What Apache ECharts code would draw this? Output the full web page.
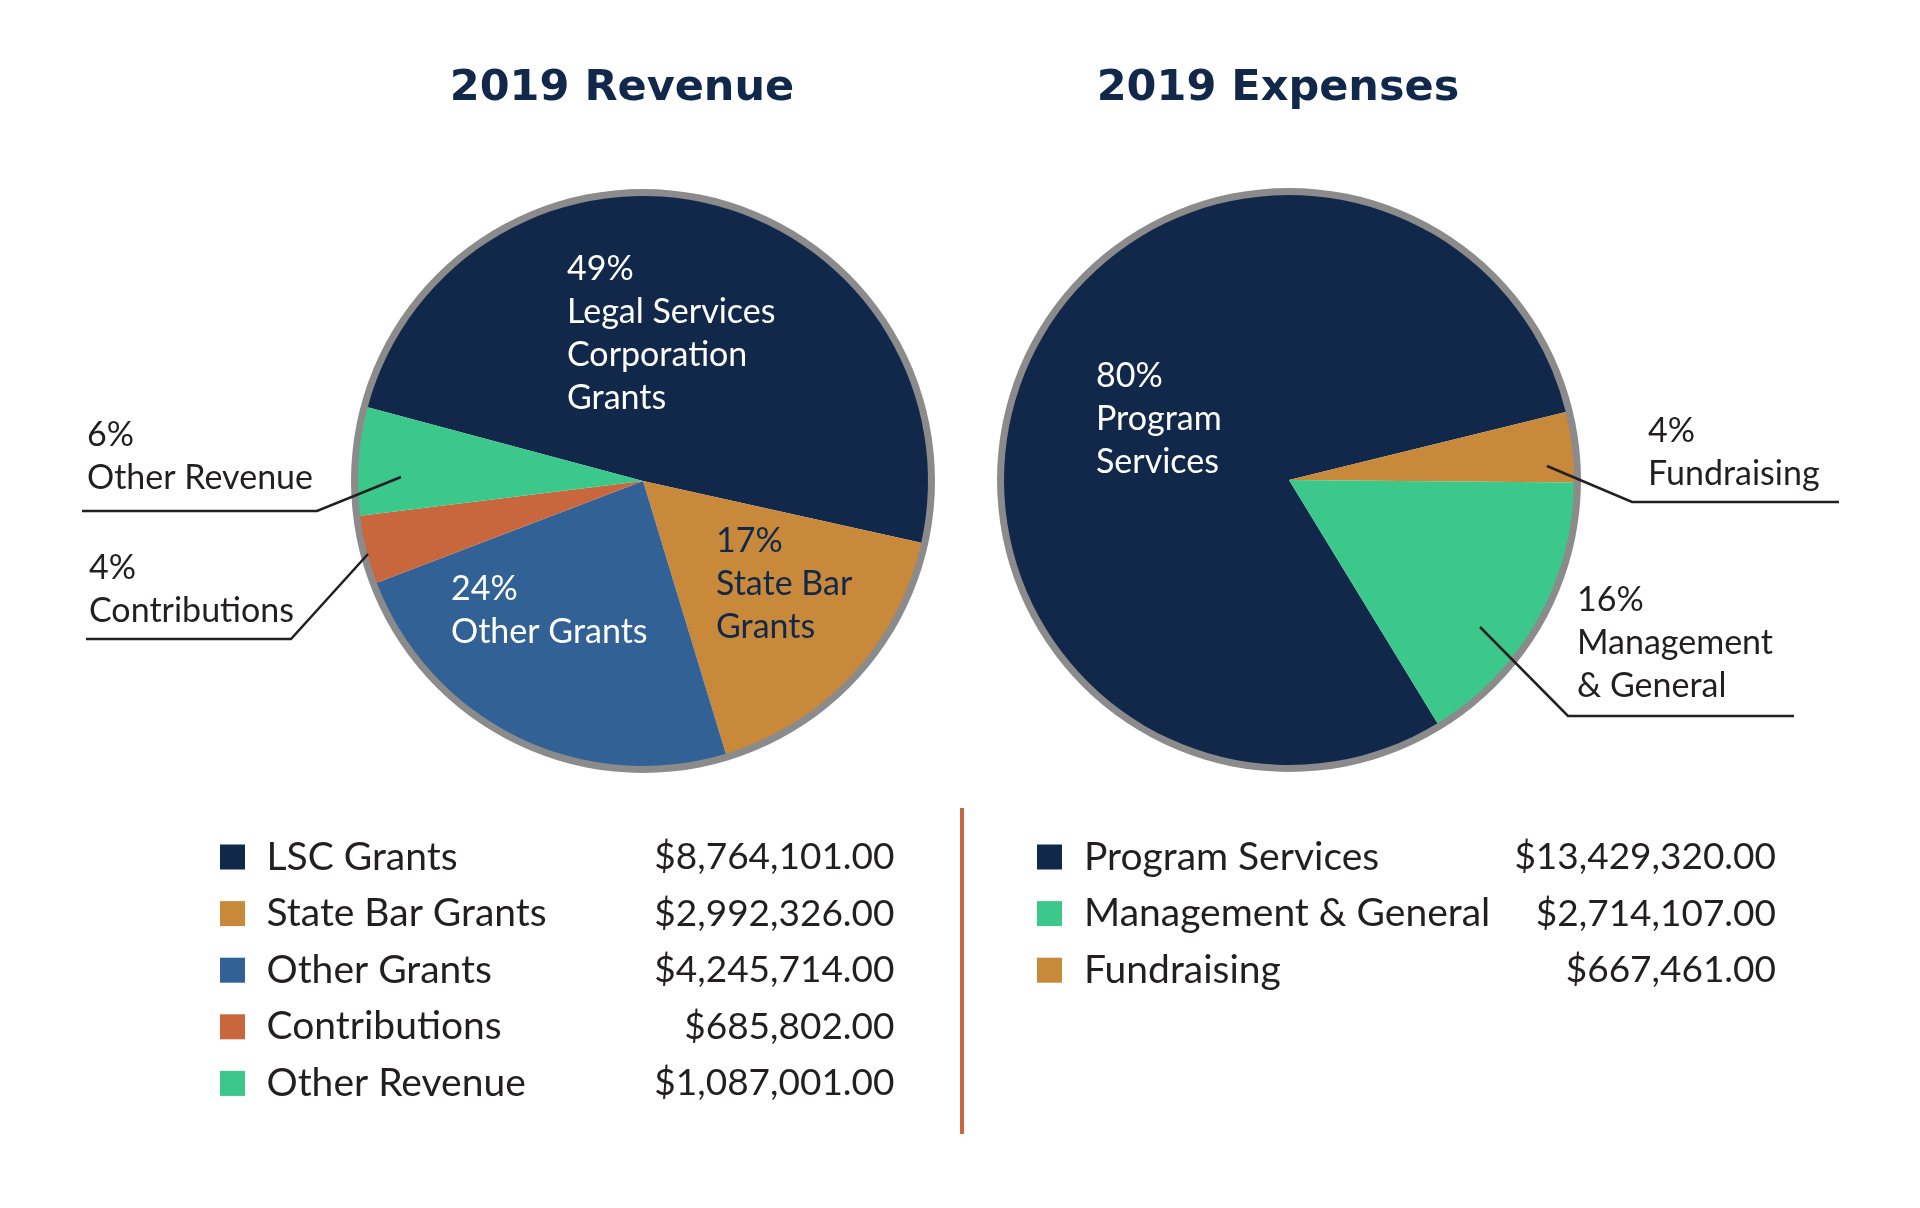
<!DOCTYPE html>
<html>
<head>
<meta charset="utf-8">
<script src="https://cdn.jsdelivr.net/npm/echarts@6/dist/echarts.min.js"></script>
<style>
  html, body { margin: 0; padding: 0; background: #ffffff; }
  #chart { width: 1920px; height: 1208px; }
</style>
</head>
<body>
<div id="chart"></div>
<script>
// ---- Data ----
const revNames  = ['LSC Grants', 'State Bar Grants', 'Other Grants', 'Contributions', 'Other Revenue'];
const revValues = [8764101, 2992326, 4245714, 685802, 1087001];
const revLabels = ['Legal Services\nCorporation\nGrants', 'State Bar\nGrants', 'Other Grants', 'Contributions', 'Other Revenue'];

const expNames  = ['Program Services', 'Fundraising', 'Management & General'];
const expValues = [13429320, 667461, 2714107];
const expLabels = ['Program\nServices', 'Fundraising', 'Management\n& General'];
const expLegendOrder = ['Program Services', 'Management & General', 'Fundraising'];

const titles = ['2019 Revenue', '2019 Expenses'];

// ---- Styles ----
const NAVY = '#11284b', GOLD = '#c8893b', BLUE = '#316195', RUST = '#c8673e', GREEN = '#3cc88a';
const revColors = [NAVY, GOLD, BLUE, RUST, GREEN];
const expColors = [NAVY, GOLD, GREEN];
const revLabelColors = ['#ffffff', NAVY, '#ffffff', '#231f20', '#231f20'];
const expLabelColors = ['#ffffff', '#231f20', '#231f20'];
const TEXT = '#231f20';
const FONT = 'Lato';

// label anchor (top-left) and leader lines
const revLabelPos = [
  {x: 567, y: 248},
  {x: 716, y: 520},
  {x: 451, y: 568},
  {x: 89,  y: 547, line: [[368, 554], [291, 639], [86, 639]]},
  {x: 87,  y: 414, line: [[401, 477], [317, 511], [82, 511]]}
];
const expLabelPos = [
  {x: 1096, y: 355},
  {x: 1648, y: 410, line: [[1547, 466], [1632, 502], [1839, 502]]},
  {x: 1577, y: 579, line: [[1480, 627], [1568, 716], [1794, 716]]}
];

function money(v) {
  return '$' + v.toLocaleString('en-US', {minimumFractionDigits: 2, maximumFractionDigits: 2});
}

function pieSeries(names, values, labels, colors, labelColors, pos, center, startAngle, overlay) {
  return {
    type: 'pie',
    z: overlay ? 5 : 3,
    silent: !!overlay,
    center: center,
    radius: [0, 285],
    startAngle: startAngle,
    clockwise: true,
    avoidLabelOverlap: false,
    animation: false,
    emphasis: {disabled: true},
    itemStyle: {borderWidth: 0},
    label: {
      fontFamily: FONT,
      fontSize: 34,
      lineHeight: 43,
      formatter: p => Math.round(p.percent) + '%\n' + labels[p.dataIndex]
    },
    labelLine: {lineStyle: {color: TEXT, width: 2.5}},
    labelLayout: function (p) {
      const q = pos[p.dataIndex];
      const r = {x: q.x, y: q.y, align: 'left', verticalAlign: 'top'};
      if (q.line) r.labelLinePoints = q.line;
      return r;
    },
    data: names.map((n, i) => {
      const outside = !!pos[i].line;
      return {
        name: n,
        value: values[i],
        itemStyle: {color: overlay ? 'rgba(0,0,0,0)' : colors[i]},
        label: {
          show: overlay ? outside : !outside,
          position: outside ? 'outside' : 'inside',
          color: labelColors[i]
        },
        labelLine: {show: overlay && outside}
      };
    })
  };
}

function ringSeries(center) {
  return {
    type: 'pie',
    z: 1,
    silent: true,
    animation: false,
    center: center,
    radius: [284, 292],
    label: {show: false},
    labelLine: {show: false},
    emphasis: {disabled: true},
    itemStyle: {color: '#8b8b8b', borderWidth: 0},
    data: [{value: 1, name: '__ring'}]
  };
}

function legend(data, lookup, left, spacer, nameW, valW) {
  const base = {fontFamily: FONT, fontSize: 39, color: TEXT, lineHeight: 40};
  return {
    orient: 'vertical',
    left: left,
    top: 832,
    itemWidth: 25,
    itemHeight: 25,
    itemGap: 16.6,
    icon: 'rect',
    selectedMode: false,
    data: data,
    itemStyle: {borderWidth: 0},
    formatter: name => '{s| }{n|' + name + '}{v|' + money(lookup(name)) + '}',
    textStyle: Object.assign({}, base, {
      rich: {
        s: Object.assign({}, base, {width: spacer}),
        n: Object.assign({}, base, {width: nameW}),
        v: Object.assign({}, base, {width: valW, align: 'right', fontSize: 37})
      }
    })
  };
}

const chart = echarts.init(document.getElementById('chart'), null, {renderer: 'canvas'});
const revCenter = [643, 481];
const expCenter = [1289, 480];

chart.setOption({
  backgroundColor: '#ffffff',
  animation: false,
  legend: [
    legend(revNames, n => revValues[revNames.indexOf(n)], 215, 16.5, 380, 248),
    legend(expLegendOrder, n => expValues[expNames.indexOf(n)], 1032, 17, 420, 272)
  ],
  graphic: [
    {type: 'text', x: 622, y: 89, style: {text: titles[0], align: 'center', verticalAlign: 'middle',
      font: 'bold 43px "DejaVu Sans"', fill: NAVY}},
    {type: 'text', x: 1278, y: 89, style: {text: titles[1], align: 'center', verticalAlign: 'middle',
      font: 'bold 43px "DejaVu Sans"', fill: NAVY}},
    {type: 'line', shape: {x1: 962, y1: 808, x2: 962, y2: 1134}, style: {stroke: RUST, lineWidth: 4}}
  ],
  series: [
    ringSeries(revCenter),
    pieSeries(revNames, revValues, revLabels, revColors, revLabelColors, revLabelPos, revCenter, 165, false),
    ringSeries(expCenter),
    pieSeries(expNames, expValues, expLabels, expColors, expLabelColors, expLabelPos, expCenter, 301.4, false),
    pieSeries(revNames, revValues, revLabels, revColors, revLabelColors, revLabelPos, revCenter, 165, true),
    pieSeries(expNames, expValues, expLabels, expColors, expLabelColors, expLabelPos, expCenter, 301.4, true)
  ]
});
</script>
</body>
</html>
